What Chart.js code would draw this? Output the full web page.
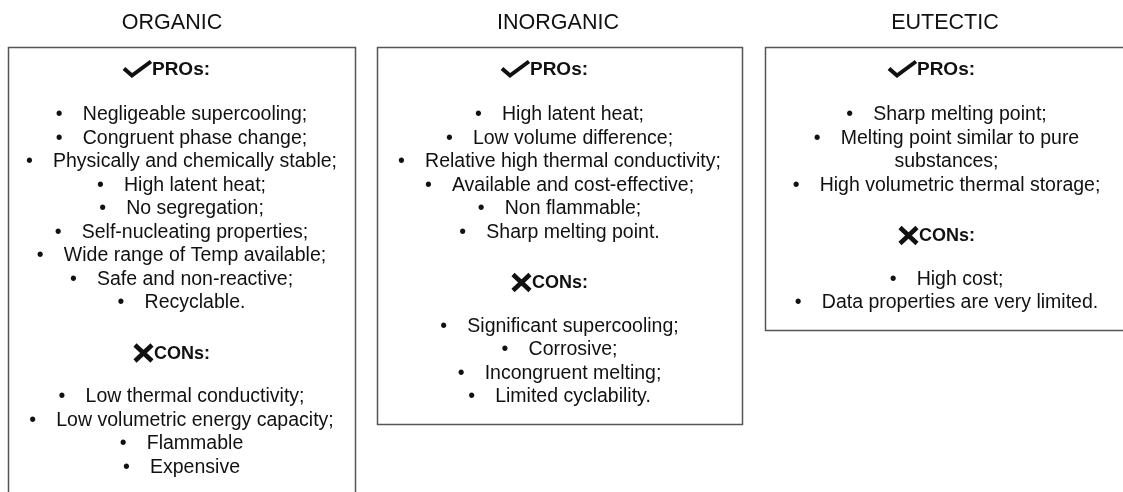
<!DOCTYPE html>
<html>
<head>
<meta charset="utf-8">
<script src="https://cdn.jsdelivr.net/npm/chart.js@4.4.1/dist/chart.umd.min.js"></script>
<style>
    html, body { margin: 0; padding: 0; background: #fff; }
    #wrap { width: 1123px; height: 492px; position: relative; }
</style>
</head>
<body>
<div id="wrap"><canvas id="panels"></canvas></div>
<script>
// Content
const groups = ['ORGANIC', 'INORGANIC', 'EUTECTIC'];
const prosLabel = 'PROs:';
const consLabel = 'CONs:';

const organicPros = [
    'Negligeable supercooling;',
    'Congruent phase change;',
    'Physically and chemically stable;',
    'High latent heat;',
    'No segregation;',
    'Self-nucleating properties;',
    'Wide range of Temp available;',
    'Safe and non-reactive;',
    'Recyclable.'
];
const organicCons = [
    'Low thermal conductivity;',
    'Low volumetric energy capacity;',
    'Flammable',
    'Expensive'
];
const inorganicPros = [
    'High latent heat;',
    'Low volume difference;',
    'Relative high thermal conductivity;',
    'Available and cost-effective;',
    'Non flammable;',
    'Sharp melting point.'
];
const inorganicCons = [
    'Significant supercooling;',
    'Corrosive;',
    'Incongruent melting;',
    'Limited cyclability.'
];
const eutecticPros = [
    'Sharp melting point;',
    'Melting point similar to pure\nsubstances;',
    'High volumetric thermal storage;'
];
const eutecticCons = [
    'High cost;',
    'Data properties are very limited.'
];

const prosLists = [organicPros, inorganicPros, eutecticPros];
const consLists = [organicCons, inorganicCons, eutecticCons];

// Layout
const boxLeft = [8, 377, 765];
const boxRight = [355, 742, 1128];
const titleX = [172, 558, 945];
const titleY = 23;
const boxTop = 47;
const lineStep = 23.5;
const FONT = '"Liberation Sans", Arial, Helvetica, sans-serif';

function drawCheck(ctx, x, y) {
    ctx.save();
    ctx.strokeStyle = '#111';
    ctx.lineWidth = 4;
    ctx.lineJoin = 'miter';
    ctx.beginPath();
    ctx.moveTo(x + 1, y - 0.5);
    ctx.lineTo(x + 9, y + 6.5);
    ctx.lineTo(x + 28, y - 7.5);
    ctx.stroke();
    ctx.restore();
}

function drawCross(ctx, x, y) {
    ctx.save();
    ctx.strokeStyle = '#111';
    ctx.lineWidth = 4.5;
    ctx.beginPath();
    ctx.moveTo(x + 2, y - 8);
    ctx.lineTo(x + 19, y + 8);
    ctx.moveTo(x + 19, y - 8);
    ctx.lineTo(x + 2, y + 8);
    ctx.stroke();
    ctx.restore();
}

function drawHeader(ctx, cx, y, kind, label) {
    ctx.font = (kind === 'check' ? 'bold 19px ' : 'bold 18px ') + FONT;
    const markW = kind === 'check' ? 29 : 21;
    const tw = ctx.measureText(label).width;
    const left = cx - (markW + tw) / 2;
    if (kind === 'check') drawCheck(ctx, left, y);
    else drawCross(ctx, left, y);
    ctx.textAlign = 'left';
    ctx.fillText(label, left + markW, y + 1);
}

// draws the bullet list, returns y of the last line
function drawItems(ctx, cx, y, items) {
    ctx.font = '19.5px ' + FONT;
    let last = y;
    items.forEach(item => {
        item.split('\n').forEach((line, k) => {
            const tw = ctx.measureText(line).width;
            if (k === 0) {
                const left = cx - (27 + tw) / 2;
                ctx.textAlign = 'left';
                ctx.fillText('\u2022', left, y);
                ctx.fillText(line, left + 27, y);
            } else {
                ctx.textAlign = 'center';
                ctx.fillText(line, cx, y);
            }
            last = y;
            y += lineStep;
        });
    });
    return last;
}

const panelPlugin = {
    id: 'panelPlugin',
    afterDraw(chart) {
        const ctx = chart.ctx;
        ctx.save();
        ctx.fillStyle = '#111';
        ctx.textBaseline = 'middle';
        groups.forEach((title, i) => {
            const cx = (boxLeft[i] + boxRight[i]) / 2;

            ctx.font = '21.5px ' + FONT;
            ctx.textAlign = 'center';
            ctx.fillText(title, titleX[i], titleY);

            drawHeader(ctx, cx - 15, boxTop + 22, 'check', prosLabel);
            let last = drawItems(ctx, cx, boxTop + 68, prosLists[i]);

            drawHeader(ctx, cx - 10, last + 50, 'cross', consLabel);
            last = drawItems(ctx, cx, last + 94, consLists[i]);

            const bottom = last + 27;
            ctx.strokeStyle = '#555';
            ctx.lineWidth = 1.5;
            ctx.strokeRect(boxLeft[i] + 0.5, boxTop + 0.5, boxRight[i] - boxLeft[i], bottom - boxTop);
        });
        ctx.restore();
    }
};

new Chart(document.getElementById('panels'), {
    type: 'bar',
    data: { labels: groups, datasets: [{ data: [] }] },
    options: {
        responsive: true,
        maintainAspectRatio: false,
        animation: false,
        layout: { padding: 0 },
        plugins: { legend: { display: false }, tooltip: { enabled: false } },
        scales: { x: { display: false }, y: { display: false } }
    },
    plugins: [panelPlugin]
});
</script>
</body>
</html>
